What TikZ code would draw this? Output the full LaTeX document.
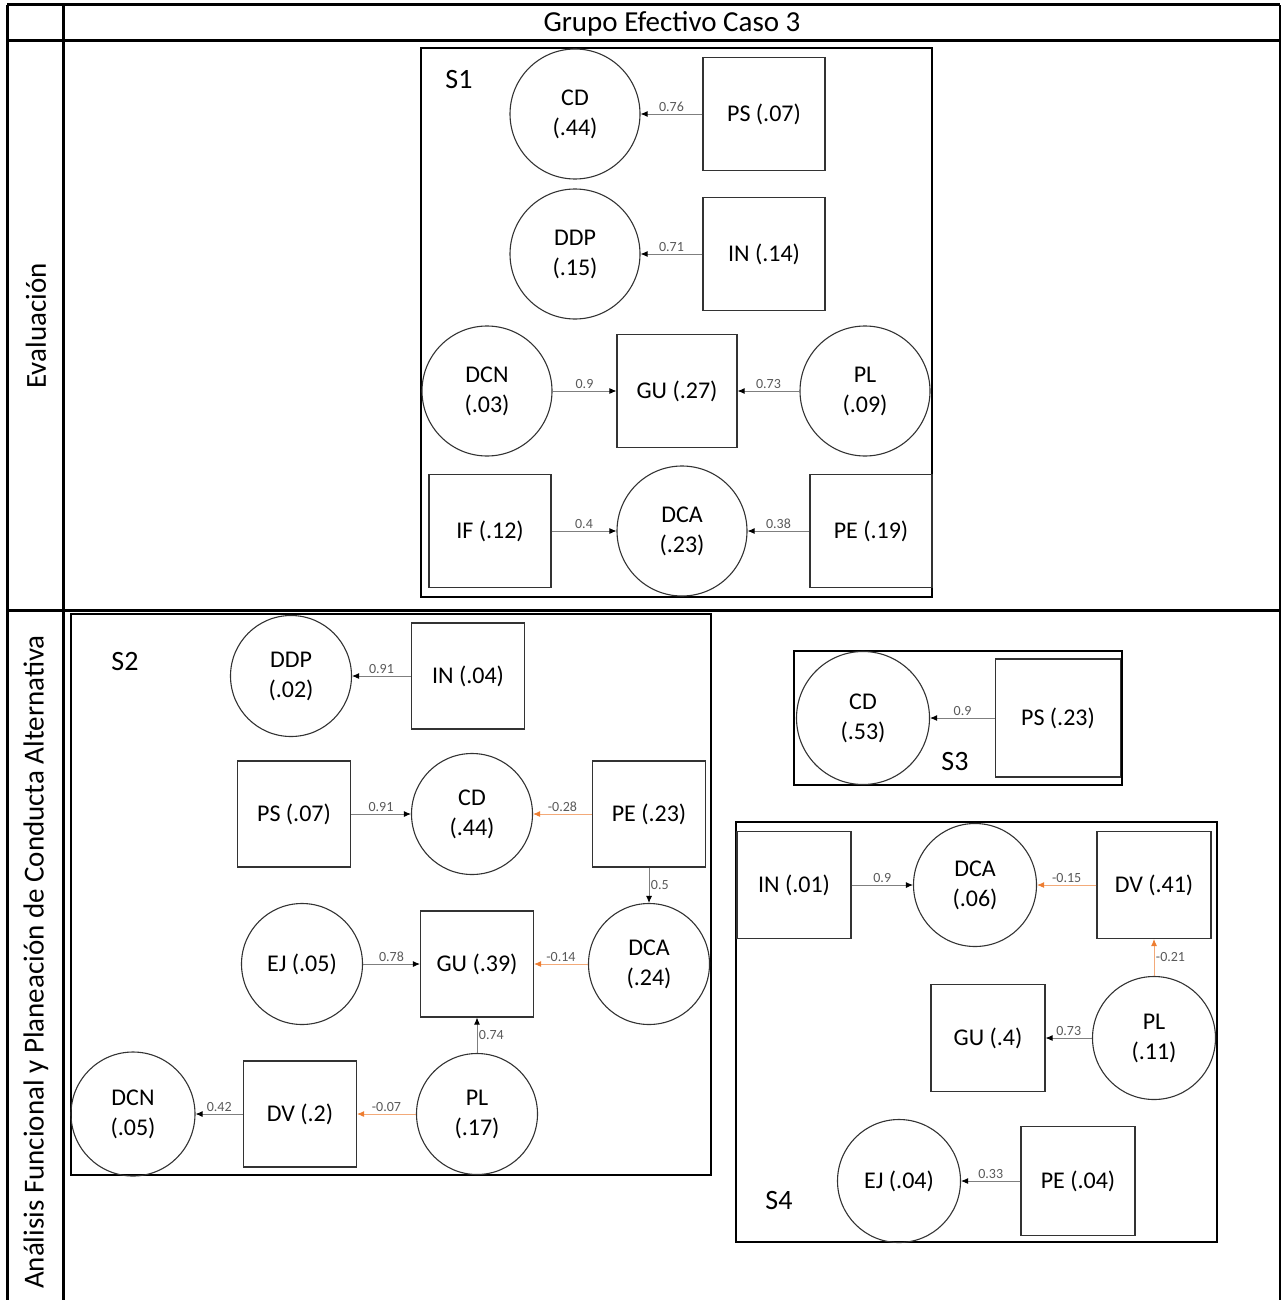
\documentclass[tikz,border=0pt]{standalone}
\usepackage{fontspec}
\setmainfont{Carlito}
\usepackage{xcolor}
\usetikzlibrary{arrows.meta}

\definecolor{linegray}{HTML}{7F7F7F}
\definecolor{labgray}{HTML}{595959}
\definecolor{negorange}{HTML}{ED7D31}

\tikzset{
  lat/.style={circle, draw=black!80, line width=1.1pt, inner sep=0pt, align=center, font=\fontsize{24}{30}\selectfont},
  obs/.style={rectangle, draw=black!80, line width=1.1pt, inner sep=0pt, align=center, font=\fontsize{24}{30}\selectfont},
  pospath/.style={draw=linegray, line width=0.9pt, -{Latex[length=7pt,width=6pt,color=black]}},
  negpath/.style={draw=negorange!65, line width=0.9pt, -{Latex[length=7pt,width=6pt,color=negorange]}},
  coef/.style={font=\fontsize{14}{14}\selectfont, text=labgray, inner sep=1.5pt},
  grp/.style={draw=black, line width=2pt},
  tbl/.style={draw=black, line width=3pt},
  hdr/.style={font=\fontsize{29}{34}\selectfont, inner sep=0pt},
  slbl/.style={font=\fontsize{28}{32}\selectfont, inner sep=0pt}
}

\begin{document}
\begin{tikzpicture}[x=1pt, y=-1pt]
    \useasboundingbox (0,0) rectangle (1281,1300);

    % table
    \draw [tbl] (7,5) -- (1280,5);
    \draw [tbl] (7,41) -- (1280,41);
    \draw [tbl] (7,610) -- (1280,610);
    \draw [tbl] (7,5) -- (7,1300);
    \draw [tbl] (63,5) -- (63,1300);
    \draw [tbl] (1280,5) -- (1280,1300);
    \node (head) [hdr] at (672,24) {Grupo Efectivo Caso 3};
    \node (rowa) [hdr, rotate=90] at (36,326) {Evaluación};
    \node (rowb) [hdr, rotate=90] at (36,962) {Análisis Funcional y Planeación de Conducta Alternativa};

    % S1
    \draw [grp] (421,48) rectangle (932,597);
    \node (s1lbl) [slbl] at (459,80) {S1};
    \begin{scope}[lat/.append style={minimum size=130pt}, obs/.append style={minimum width=122pt, minimum height=113pt}]
        \node (s1cd) [lat] at (575,114) {CD\\(.44)};
        \node (s1ps) [obs] at (764,114) {PS (.07)};
        \node (s1ddp) [lat] at (575,254) {DDP\\(.15)};
        \node (s1in) [obs] at (764,254) {IN (.14)};
        \node (s1dcn) [lat] at (487,391) {DCN\\(.03)};
        \node (s1gu) [obs, minimum width=120pt] at (677,391) {GU (.27)};
        \node (s1pl) [lat] at (865,391) {PL\\(.09)};
        \node (s1if) [obs] at (490,531) {IF (.12)};
        \node (s1dca) [lat] at (682,531) {DCA\\(.23)};
        \node (s1pe) [obs] at (871,531) {PE (.19)};
    \end{scope}
    \draw [pospath] (s1ps) -- node [coef, above] {0.76} (s1cd);
    \draw [pospath] (s1in) -- node [coef, above] {0.71} (s1ddp);
    \draw [pospath] (s1dcn) -- node [coef, above] {0.9} (s1gu);
    \draw [pospath] (s1pl) -- node [coef, above] {0.73} (s1gu);
    \draw [pospath] (s1if) -- node [coef, above] {0.4} (s1dca);
    \draw [pospath] (s1pe) -- node [coef, above] {0.38} (s1dca);

    % S2
    \draw [grp] (71,614) rectangle (711,1175);
    \node (s2lbl) [slbl] at (125,662) {S2};
    \begin{scope}[lat/.append style={minimum size=121pt}, obs/.append style={minimum width=113pt, minimum height=106pt}]
        \node (s2ddp) [lat] at (291,676) {DDP\\(.02)};
        \node (s2in) [obs] at (468,676) {IN (.04)};
        \node (s2ps) [obs] at (294,814) {PS (.07)};
        \node (s2cd) [lat] at (472,814) {CD\\(.44)};
        \node (s2pe) [obs] at (649,814) {PE (.23)};
        \node (s2ej) [lat] at (302,964) {EJ (.05)};
        \node (s2gu) [obs] at (477,964) {GU (.39)};
        \node (s2dca) [lat] at (649,964) {DCA\\(.24)};
        \node (s2dcn) [lat, minimum size=124pt] at (133,1114) {DCN\\(.05)};
        \node (s2dv) [obs] at (300,1114) {DV (.2)};
        \node (s2pl) [lat] at (477,1114) {PL\\(.17)};
    \end{scope}
    \draw [pospath] (s2in) -- node [coef, above] {0.91} (s2ddp);
    \draw [pospath] (s2ps) -- node [coef, above] {0.91} (s2cd);
    \draw [negpath] (s2pe) -- node [coef, above] {-0.28} (s2cd);
    \draw [pospath] (s2pe) -- node [coef, right] {0.5} (s2dca);
    \draw [pospath] (s2ej) -- node [coef, above] {0.78} (s2gu);
    \draw [negpath] (s2dca) -- node [coef, above] {-0.14} (s2gu);
    \draw [pospath] (s2pl) -- node [coef, right] {0.74} (s2gu);
    \draw [negpath] (s2pl) -- node [coef, above] {-0.07} (s2dv);
    \draw [pospath] (s2dv) -- node [coef, above] {0.42} (s2dcn);

    % S3
    \draw [grp] (794,651) rectangle (1122,785);
    \node (s3lbl) [slbl] at (955,762) {S3};
    \node (s3cd) [lat, minimum size=133pt] at (863,718) {CD\\(.53)};
    \node (s3ps) [obs, minimum width=125pt, minimum height=118pt] at (1058,718) {PS (.23)};
    \draw [pospath] (s3ps) -- node [coef, above] {0.9} (s3cd);

    % S4
    \draw [grp] (736,822) rectangle (1217,1242);
    \node (s4lbl) [slbl] at (779,1200) {S4};
    \begin{scope}[lat/.append style={minimum size=123pt}, obs/.append style={minimum width=114pt, minimum height=107pt}]
        \node (s4in) [obs] at (794,885) {IN (.01)};
        \node (s4dca) [lat] at (975,885) {DCA\\(.06)};
        \node (s4dv) [obs] at (1154,885) {DV (.41)};
        \node (s4gu) [obs] at (988,1038) {GU (.4)};
        \node (s4pl) [lat] at (1154,1038) {PL\\(.11)};
        \node (s4ej) [lat] at (899,1181) {EJ (.04)};
        \node (s4pe) [obs, minimum height=109pt] at (1078,1181) {PE (.04)};
    \end{scope}
    \draw [pospath] (s4in) -- node [coef, above] {0.9} (s4dca);
    \draw [negpath] (s4dv) -- node [coef, above] {-0.15} (s4dca);
    \draw [negpath] (s4pl) -- node [coef, right] {-0.21} (s4dv);
    \draw [pospath] (s4pl) -- node [coef, above] {0.73} (s4gu);
    \draw [pospath] (s4pe) -- node [coef, above] {0.33} (s4ej);
\end{tikzpicture}
\end{document}
